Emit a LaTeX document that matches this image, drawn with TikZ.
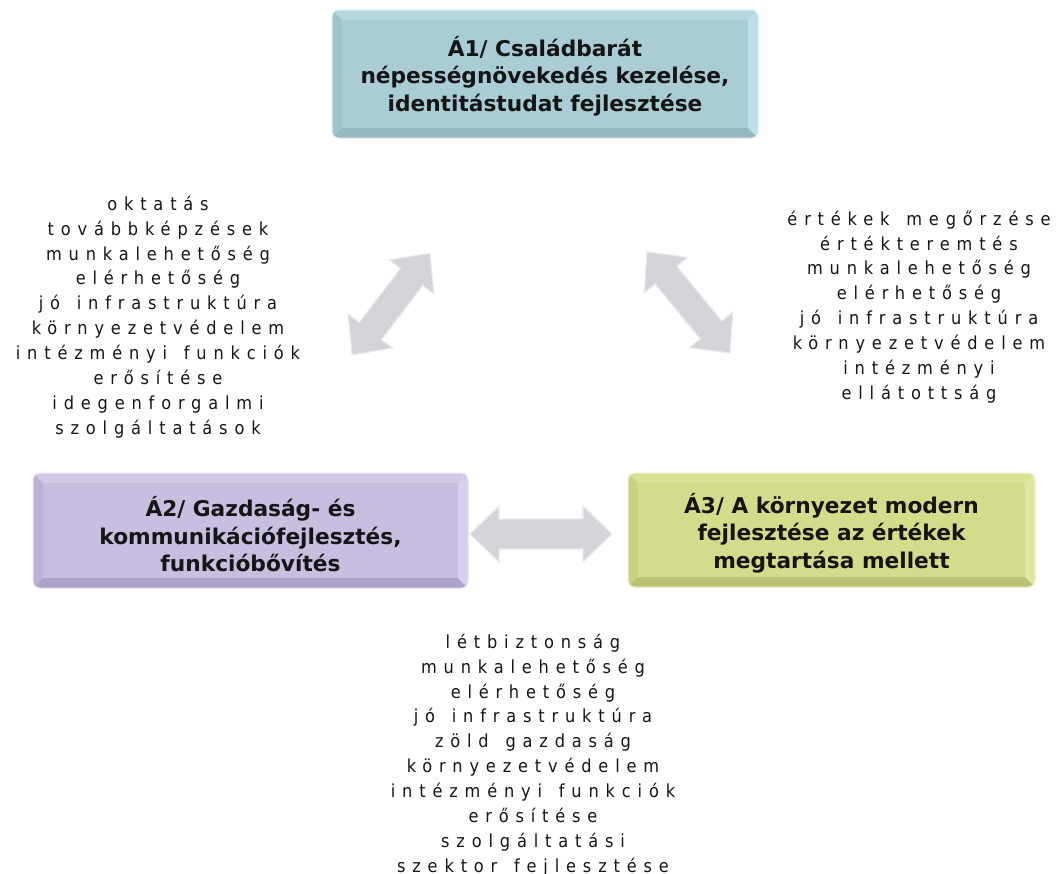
\documentclass[tikz,border=0pt]{standalone}
\usepackage{fontspec}
\setmainfont{DejaVu Sans}
\newfontfamily\lsfont[LetterSpace=38,FakeStretch=0.9,WordSpace=1.4]{DejaVu Sans}
\definecolor{bluef}{HTML}{A9CCD5}
\definecolor{bluet}{HTML}{B6D7DF}
\definecolor{bluel}{HTML}{A0C3CC}
\definecolor{blueb}{HTML}{97B8C1}
\definecolor{bluer}{HTML}{BEDFE8}
\definecolor{violf}{HTML}{C8BEDF}
\definecolor{violt}{HTML}{D2C9E7}
\definecolor{violl}{HTML}{BCB1D6}
\definecolor{violb}{HTML}{ADA3C6}
\definecolor{violr}{HTML}{D8CFEE}
\definecolor{yelf}{HTML}{D4DB8B}
\definecolor{yelt}{HTML}{DBE196}
\definecolor{yell}{HTML}{CAD181}
\definecolor{yelb}{HTML}{BAC172}
\definecolor{yelr}{HTML}{E0E6A0}
\definecolor{arrg}{HTML}{D3D3D8}
\definecolor{arre}{HTML}{EAEAEE}
\definecolor{txt}{HTML}{151515}
\tikzset{
  bevel/.style n args={4}{path picture={
    \path[sharp corners,fill=#1] (path picture bounding box.north west) -- (path picture bounding box.north east)
      -- ([xshift=-10pt,yshift=-10pt]path picture bounding box.north east) -- ([xshift=10pt,yshift=-10pt]path picture bounding box.north west) -- cycle;
    \path[sharp corners,fill=#2] (path picture bounding box.north west) -- (path picture bounding box.south west)
      -- ([xshift=10pt,yshift=10pt]path picture bounding box.south west) -- ([xshift=10pt,yshift=-10pt]path picture bounding box.north west) -- cycle;
    \path[sharp corners,fill=#3] (path picture bounding box.south west) -- (path picture bounding box.south east)
      -- ([xshift=-10pt,yshift=10pt]path picture bounding box.south east) -- ([xshift=10pt,yshift=10pt]path picture bounding box.south west) -- cycle;
    \path[sharp corners,fill=#4] (path picture bounding box.north east) -- (path picture bounding box.south east)
      -- ([xshift=-10pt,yshift=10pt]path picture bounding box.south east) -- ([xshift=-10pt,yshift=-10pt]path picture bounding box.north east) -- cycle;
  }},
  goalbox/.style={rounded corners=7pt, line width=1pt, inner sep=0pt},
  goal/.style={align=center, text=txt, inner sep=0pt,
    font=\bfseries\fontsize{21.7}{27.5}\selectfont},
  lst/.style={align=center, text=txt, inner sep=0pt,
    font=\lsfont\fontsize{18}{24.9}\selectfont},
  arrowfill/.style={fill=arrg, draw=arre, line width=1.2pt, line join=miter}
}
\newcommand\dblarrow[6]{%
  \begin{scope}[shift={(#1)}, rotate=#2]
    \path[arrowfill] (-#3/2,0) -- (-#3/2+#6,#5) -- (-#3/2+#6,#4) -- (#3/2-#6,#4) -- (#3/2-#6,#5) -- (#3/2,0)
      -- (#3/2-#6,-#5) -- (#3/2-#6,-#4) -- (-#3/2+#6,-#4) -- (-#3/2+#6,-#5) -- cycle;
  \end{scope}}
\begin{document}
\begin{tikzpicture}[x=1pt,y=-1pt]
\useasboundingbox (0,0) rectangle (1056,873);
\clip (0,0) rectangle (1056,873);
\fill[white] (0,0) rectangle (1056,873);

\node[goalbox, fill=bluef, draw=bluer!60!white, minimum width=426pt, minimum height=128pt,
  bevel={bluet}{bluel}{blueb}{bluer}] (B1) at (545,74) {};
\node[goalbox, fill=violf, draw=violr!60!white, minimum width=435pt, minimum height=115pt,
  bevel={violt}{violl}{violb}{violr}] (B2) at (250.5,530.5) {};
\node[goalbox, fill=yelf, draw=yelr!60!white, minimum width=407pt, minimum height=114pt,
  bevel={yelt}{yell}{yelb}{yelr}] (B3) at (831.5,530) {};
\node[goal] (A1) at ([yshift=-2pt]B1.center) {Á1/ Családbarát\\népességnövekedés kezelése,\\identitástudat fejlesztése};
\node[goal] (A2) at ([yshift=-4pt]B2.center) {Á2/ Gazdaság- és\\kommunikációfejlesztés,\\funkcióbővítés};
\node[goal] (A3) at ([yshift=-3pt]B3.center) {Á3/ A környezet modern\\fejlesztése az értékek\\megtartása mellett};

\coordinate (h12) at (391,304);
\coordinate (h13) at (688.5,302.5);
\coordinate (h23) at (541,534);
\dblarrow{h12}{52.6}{128}{14}{28}{30}
\dblarrow{h13}{-50.6}{131}{14}{28}{30}
\dblarrow{h23}{0}{142}{15}{28}{29}

\node[lst] (L12) at (158,317) {oktatás\\továbbképzések\\munkalehetőség\\elérhetőség\\jó infrastruktúra\\környezetvédelem\\intézményi funkciók\\erősítése\\idegenforgalmi\\szolgáltatások};
\node[lst] (L13) at (919,307) {értékek megőrzése\\értékteremtés\\munkalehetőség\\elérhetőség\\jó infrastruktúra\\környezetvédelem\\intézményi\\ellátottság};
\node[lst] (L23) at (533,755) {létbiztonság\\munkalehetőség\\elérhetőség\\jó infrastruktúra\\zöld gazdaság\\környezetvédelem\\intézményi funkciók\\erősítése\\szolgáltatási\\szektor fejlesztése};
\end{tikzpicture}
\end{document}
